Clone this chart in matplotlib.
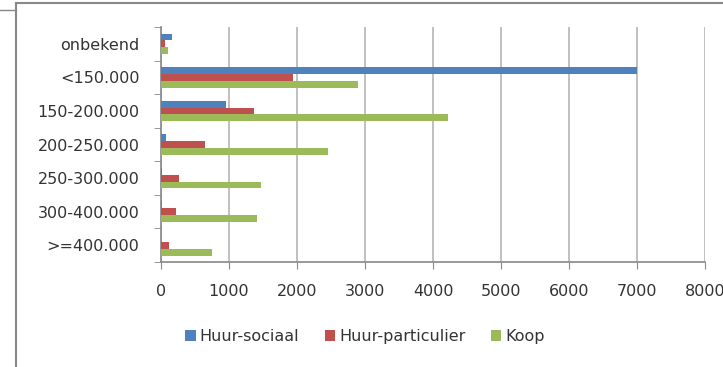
import numpy as np
import matplotlib
matplotlib.use("Agg")
import matplotlib.pyplot as plt
from matplotlib.lines import Line2D

# prijsklassen, van boven naar beneden
categories = ["onbekend", "<150.000", "150-200.000", "200-250.000",
              "250-300.000", "300-400.000", ">=400.000"]
huur_sociaal = [160, 7000, 950, 70, 20, 20, 0]
huur_particulier = [60, 1935, 1360, 645, 265, 215, 115]
koop = [110, 2900, 4220, 2450, 1465, 1405, 745]

series = [("Huur-sociaal", huur_sociaal, "#4F81BD"),
          ("Huur-particulier", huur_particulier, "#C0504D"),
          ("Koop", koop, "#9BBB59")]

plt.rcParams['font.family'] = ['DejaVu Sans']
fs = 11.5
txt = "#333333"

fig = plt.figure(figsize=(7.23, 3.67), dpi=100)
ax = fig.add_axes([0.2227, 0.286, 0.7525, 0.64])

y = np.arange(len(categories))
h = 0.205
for i, (name, vals, col) in enumerate(series):
    ax.barh(y + (i - 1) * h, vals, height=h, color=col, label=name, zorder=3)

ax.set_ylim(len(categories) - 0.5, -0.5)
ax.set_xlim(0, 8000)
ax.set_xticks(range(0, 8001, 1000))
ax.set_yticks(y)
ax.set_yticklabels(categories, fontsize=fs, color=txt)
ax.tick_params(axis="y", length=0, pad=15.5)
ax.tick_params(axis="x", length=5, color="#888888", labelsize=fs,
               labelcolor=txt, pad=11)
# streepjes tussen de categorieen op de y-as
ax.set_yticks(np.arange(-0.5, len(categories) + 0.5, 1), minor=True)
ax.tick_params(axis="y", which="minor", length=5, color="#888888")

ax.grid(axis="x", color="#BBBBBB", linewidth=1.3, zorder=0)
for s in ["top", "right"]:
    ax.spines[s].set_visible(False)
for s in ["left", "bottom"]:
    ax.spines[s].set_color("#888888")
    ax.spines[s].set_linewidth(1.2)

leg = fig.legend(loc="center", bbox_to_anchor=(0.505, 0.082), ncol=3,
                 frameon=False, fontsize=fs, handlelength=0.65,
                 handleheight=0.65, columnspacing=1.6, handletextpad=0.25)
for t in leg.get_texts():
    t.set_color(txt)

# rand van de grafiek
fig.add_artist(Line2D([16 / 723, 16 / 723], [0, 1 - 3 / 367],
                      transform=fig.transFigure, color="#888888", lw=1.5))
fig.add_artist(Line2D([16 / 723, 1], [1 - 3 / 367, 1 - 3 / 367],
                      transform=fig.transFigure, color="#888888", lw=1.5))
fig.add_artist(Line2D([0, 16 / 723], [1 - 10 / 367, 1 - 10 / 367],
                      transform=fig.transFigure, color="#888888", lw=1.0))

fig.savefig("out.png", dpi=100)
